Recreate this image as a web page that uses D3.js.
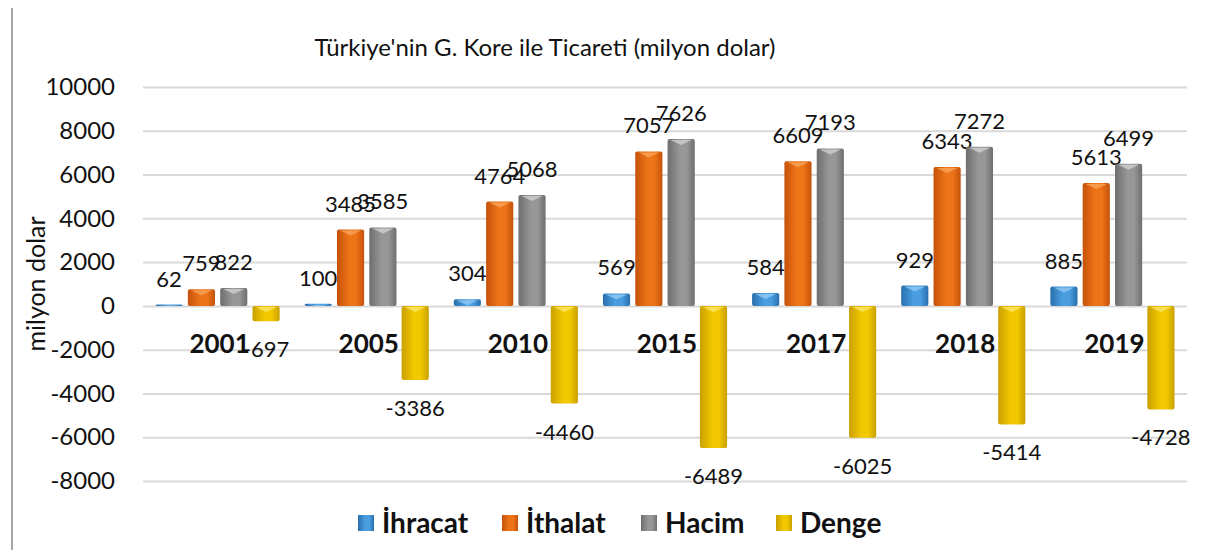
<!DOCTYPE html>
<html>
<head>
<meta charset="utf-8">
<script src="https://cdnjs.cloudflare.com/ajax/libs/d3/7.8.5/d3.min.js"></script>
<style>
  body { margin: 0; background: #fff; }
  svg text { font-family: Lato, "Open Sans", sans-serif; fill: #111; }
</style>
</head>
<body>
<svg id="chart" width="1210" height="550"></svg>
<script>
var years = ['2001', '2005', '2010', '2015', '2017', '2018', '2019'];
var ihracat = [62, 100, 304, 569, 584, 929, 885];
var ithalat = [759, 3485, 4764, 7057, 6609, 6343, 5613];
var hacim = [822, 3585, 5068, 7626, 7193, 7272, 6499];
var denge = [-697, -3386, -4460, -6489, -6025, -5414, -4728];
var seriesNames = ['İhracat', 'İthalat', 'Hacim', 'Denge'];
var yTicks = [10000, 8000, 6000, 4000, 2000, 0, -2000, -4000, -6000, -8000];

var colors = [
  {dark: '#2a6fae', mid: '#4a9ee0', light: '#8fc8f5'},
  {dark: '#c4520a', mid: '#ee7418', light: '#f8a45a'},
  {dark: '#6e6e6e', mid: '#979797', light: '#d0d0d0'},
  {dark: '#c9a000', mid: '#f2c800', light: '#fde66a'}
];

var margin = {top: 87, right: 23, bottom: 69, left: 143},
  width = 1210 - margin.left - margin.right;

var svg = d3.select('#chart');
var defs = svg.append('defs');
colors.forEach(function(c, i) {
  var g = defs.append('linearGradient').attr('id', 'grad' + i)
    .attr('x1', '0%').attr('x2', '100%').attr('y1', '0%').attr('y2', '0%');
  g.append('stop').attr('offset', '0%').attr('stop-color', c.dark);
  g.append('stop').attr('offset', '45%').attr('stop-color', c.mid);
  g.append('stop').attr('offset', '70%').attr('stop-color', c.mid);
  g.append('stop').attr('offset', '100%').attr('stop-color', c.dark);
});

// left frame line
svg.append('line').attr('x1', 12).attr('x2', 12).attr('y1', 8).attr('y2', 550)
  .attr('stroke', '#8a8a8a').attr('stroke-width', 1.5);

svg.append('text').attr('x', 545).attr('y', 56).attr('text-anchor', 'middle')
  .style('font-size', '24px').text("Türkiye'nin G. Kore ile Ticareti (milyon dolar)");

var g = svg.append('g').attr('transform', 'translate(' + margin.left + ',' + margin.top + ')');

var y = d3.scaleLinear().domain([10000, -8000]).range([0, 394]);
var x = d3.scaleBand().domain(years).range([0, width]).paddingInner(0).paddingOuter(0);
var x1 = d3.scaleBand().domain(seriesNames).range([12.5, x.bandwidth() - 12.5]).paddingInner(0.16);

// grid
var yAxis = d3.axisLeft(y).tickValues(yTicks).tickSize(-width).tickPadding(28)
  .tickFormat(function(d) { return String(d); });
var ya = g.append('g').call(yAxis);
ya.select('.domain').remove();
ya.selectAll('.tick line').attr('stroke', '#d9d9d9').attr('stroke-width', 2);
ya.selectAll('.tick text').style('font-size', '24px').attr('fill', '#111');

svg.append('text').attr('transform', 'translate(45,284) rotate(-90)')
  .attr('text-anchor', 'middle').style('font-size', '25px').text('milyon dolar');

var all = [ihracat, ithalat, hacim, denge];
all.forEach(function(vals, si) {
  var grp = g.append('g');
  grp.selectAll('rect').data(vals).enter().append('rect')
    .attr('x', function(d, i) { return x(years[i]) + x1(seriesNames[si]); })
    .attr('y', function(d) { return y(Math.max(0, d)); })
    .attr('width', x1.bandwidth())
    .attr('height', function(d) { return Math.abs(y(d) - y(0)); })
    .attr('rx', 2)
    .attr('fill', 'url(#grad' + si + ')');
  // highlight cap
  grp.selectAll('path').data(vals).enter().append('path')
    .attr('d', function(d, i) {
      var bx = x(years[i]) + x1(seriesNames[si]), bw = x1.bandwidth();
      var top = y(Math.max(0, d));
      var h = Math.min(6, Math.abs(y(d) - y(0)));
      return 'M' + (bx + 3) + ',' + (top + 1) + 'L' + (bx + bw - 3) + ',' + (top + 1) +
        'L' + (bx + bw / 2) + ',' + (top + h) + 'Z';
    })
    .attr('fill', colors[si].light).attr('opacity', 0.8);
  grp.selectAll('text').data(vals).enter().append('text')
    .attr('x', function(d, i) { return x(years[i]) + x1(seriesNames[si]) + x1.bandwidth() / 2; })
    .attr('y', function(d) { return d >= 0 ? y(d) - 18 : y(d) + 36; })
    .attr('text-anchor', 'middle')
    .style('font-size', '22px')
    .text(function(d) { return String(d); });
});

g.selectAll('.cat').data(years).enter().append('text')
  .attr('x', function(d) { return x(d) + x.bandwidth() / 2 + 2; })
  .attr('y', y(0) + 47)
  .attr('text-anchor', 'middle')
  .style('font-size', '26px').style('font-weight', 'bold')
  .text(function(d) { return d; });

// legend
var legX = [358, 502, 641, 776];
var leg = svg.append('g');
seriesNames.forEach(function(n, i) {
  leg.append('rect').attr('x', legX[i]).attr('y', 515).attr('width', 16).attr('height', 16)
    .attr('fill', 'url(#grad' + i + ')');
  leg.append('text').attr('x', legX[i] + 24).attr('y', 533)
    .style('font-size', '28px').style('font-weight', 'bold').text(n);
});
</script>
</body>
</html>
